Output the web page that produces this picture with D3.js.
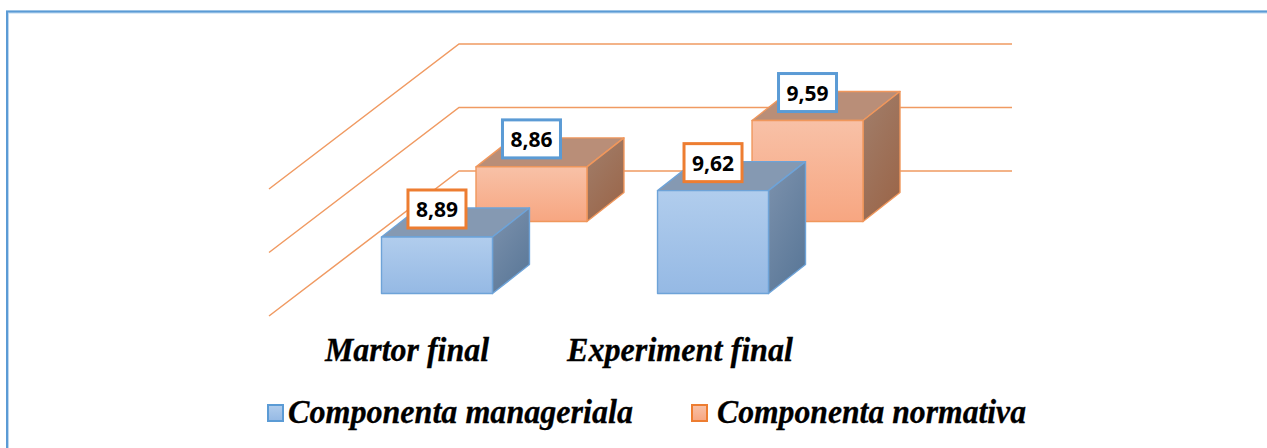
<!doctype html>
<html>

<head>
    <style>
        html, body { margin: 0; padding: 0; background: #fff; }
        svg { display: block; }
        .cat, .leg { font-family: "Liberation Serif", serif; font-weight: bold; font-style: italic; fill: #000; stroke: #000; stroke-width: 0.3px; }
        .val { font-family: "Open Sans", sans-serif; font-weight: bold; font-size: 22px; fill: #000; }
    </style>
    <script src="https://d3js.org/d3.v7.min.js"></script>
</head>

<body>
    <svg width="1267" height="448"></svg>
    <script>
        var categories = ["Martor final", "Experiment final"];
        var seriesNames = ["Componenta manageriala", "Componenta normativa"];
        var managerial = [8.89, 9.62];
        var normative = [8.86, 9.59];
        var yTicks = [8, 9, 10];

        var svg = d3.select("svg");
        var defs = svg.append("defs");

        // pseudo 3D layout
        var barDepth = { dx: 37, dy: -29 },
            seriesStep = { dx: 94.5, dy: -72 },
            wall = { x: 459, dy: -122.5, sideDx: -190, sideDy: 145, right: 1012 };

        var x = d3.scaleBand().domain(categories).range([381.5, 768.5]).paddingInner(0.598).paddingOuter(0),
            y = d3.scaleLinear().domain([8, 10]).range([293.5, 166.5]),
            z = d3.scalePoint().domain(seriesNames).range([0, 1]);

        var comma = d3.formatLocale({ decimal: ",", thousands: ".", grouping: [3], currency: ["", ""] }).format(".2f");

        var palette = {
            "Componenta manageriala": {
                front: ["#b1cded", "#95b9e4"], side: ["#7d92ad", "#5c7999"], top: "#8599b2",
                stroke: "#6ea3d8", label: "#ed7d31"
            },
            "Componenta normativa": {
                front: ["#f8c1a7", "#f7a681"], side: ["#a17f6c", "#9b674b"], top: "#b98e78",
                stroke: "#f0975c", label: "#5b9bd5"
            }
        };

        function gradient(id, stops, x2, y2) {
            var g = defs.append("linearGradient").attr("id", id)
                .attr("x1", 0).attr("y1", 0).attr("x2", x2).attr("y2", y2);
            g.append("stop").attr("offset", "0%").attr("stop-color", stops[0]);
            g.append("stop").attr("offset", "100%").attr("stop-color", stops[1]);
        }

        seriesNames.forEach(function (s, i) {
            gradient("front" + i, palette[s].front, 0, 1);
            gradient("side" + i, palette[s].side, 0.6, 1);
        });

        // page frame, only left and top are visible
        svg.append("path").attr("d", "M7.5,448V12H1267").attr("fill", "none")
            .attr("stroke", "#bcd7ef").attr("stroke-width", 3);
        svg.append("path").attr("d", "M7,448V11.5H1267").attr("fill", "none")
            .attr("stroke", "#5b9bd5").attr("stroke-width", 2);

        // walls
        var grid = svg.append("g").attr("fill", "none").attr("stroke", "#f09a62").attr("stroke-width", 1.5);
        grid.selectAll("path")
            .data(yTicks)
            .enter().append("path")
            .attr("d", function (d) {
                var yb = y(d) + wall.dy;
                return d3.line()([[wall.x + wall.sideDx, yb + wall.sideDy], [wall.x, yb], [wall.right, yb]]);
            });

        // bars, back series first
        var line = d3.line();
        var bars = [];
        [[normative, 1], [managerial, 0]].forEach(function (pair) {
            categories.forEach(function (c, k) {
                bars.push({ cat: c, series: seriesNames[pair[1]], si: pair[1], value: pair[0][k] });
            });
        });

        function geom(d) {
            var off = z(d.series);
            var x0 = x(d.cat) + off * seriesStep.dx,
                x1 = x0 + x.bandwidth(),
                yb = y(8) + off * seriesStep.dy,
                yt = y(d.value) + off * seriesStep.dy;
            return { x0: x0, x1: x1, yb: yb, yt: yt };
        }

        var bar = svg.append("g").selectAll("g")
            .data(bars)
            .enter().append("g")
            .attr("stroke-width", 1.4)
            .attr("stroke-linejoin", "round")
            .attr("stroke", function (d) { return palette[d.series].stroke; });

        bar.append("path")
            .attr("fill", function (d) { return palette[d.series].top; })
            .attr("d", function (d) {
                var g = geom(d);
                return line([[g.x0, g.yt], [g.x1, g.yt], [g.x1 + barDepth.dx, g.yt + barDepth.dy], [g.x0 + barDepth.dx, g.yt + barDepth.dy]]) + "Z";
            });
        bar.append("path")
            .attr("fill", function (d) { return "url(#side" + d.si + ")"; })
            .attr("d", function (d) {
                var g = geom(d);
                return line([[g.x1, g.yt], [g.x1 + barDepth.dx, g.yt + barDepth.dy], [g.x1 + barDepth.dx, g.yb + barDepth.dy], [g.x1, g.yb]]) + "Z";
            });
        bar.append("path")
            .attr("fill", function (d) { return "url(#front" + d.si + ")"; })
            .attr("d", function (d) {
                var g = geom(d);
                return line([[g.x0, g.yt], [g.x1, g.yt], [g.x1, g.yb], [g.x0, g.yb]]) + "Z";
            });

        // value labels on top of everything
        var labels = svg.append("g").selectAll("g")
            .data(bars)
            .enter().append("g")
            .attr("transform", function (d) {
                var g = geom(d);
                return "translate(" + (g.x0 + g.x1) / 2 + "," + (g.yt - 28) + ")";
            });
        labels.append("rect")
            .attr("x", -29).attr("y", -19).attr("width", 58).attr("height", 38)
            .attr("fill", "#fff").attr("stroke-width", 3)
            .attr("stroke", function (d) { return palette[d.series].label; });
        labels.append("text")
            .attr("class", "val").attr("text-anchor", "middle").attr("y", 8)
            .attr("textLength", 42)
            .attr("lengthAdjust", "spacingAndGlyphs")
            .text(function (d) { return comma(d.value); });

        // category labels
        var catLeft = [325, 567], catWidth = [164, 226];
        svg.selectAll(".cat")
            .data(categories)
            .enter().append("text")
            .attr("class", "cat")
            .attr("x", function (d, i) { return catLeft[i]; })
            .attr("y", 360.5)
            .attr("font-size", 34)
            .attr("textLength", function (d, i) { return catWidth[i]; })
            .attr("lengthAdjust", "spacingAndGlyphs")
            .text(function (d) { return d; });

        // legend
        var legSwatch = [268, 692], legLeft = [288, 717], legWidth = [345, 309];
        var leg = svg.selectAll(".legitem")
            .data(seriesNames)
            .enter().append("g").attr("class", "legitem");
        leg.append("rect")
            .attr("x", function (d, i) { return legSwatch[i]; })
            .attr("y", 405).attr("width", 15).attr("height", 16)
            .attr("fill", function (d, i) { return "url(#front" + i + ")"; })
            .attr("stroke-width", 2)
            .attr("stroke", function (d, i) { return i ? "#ed7d31" : "#5b9bd5"; });
        leg.append("text")
            .attr("class", "leg")
            .attr("x", function (d, i) { return legLeft[i]; })
            .attr("y", 423)
            .attr("font-size", 34)
            .attr("textLength", function (d, i) { return legWidth[i]; })
            .attr("lengthAdjust", "spacingAndGlyphs")
            .text(function (d) { return d; });
    </script>
</body>

</html>
